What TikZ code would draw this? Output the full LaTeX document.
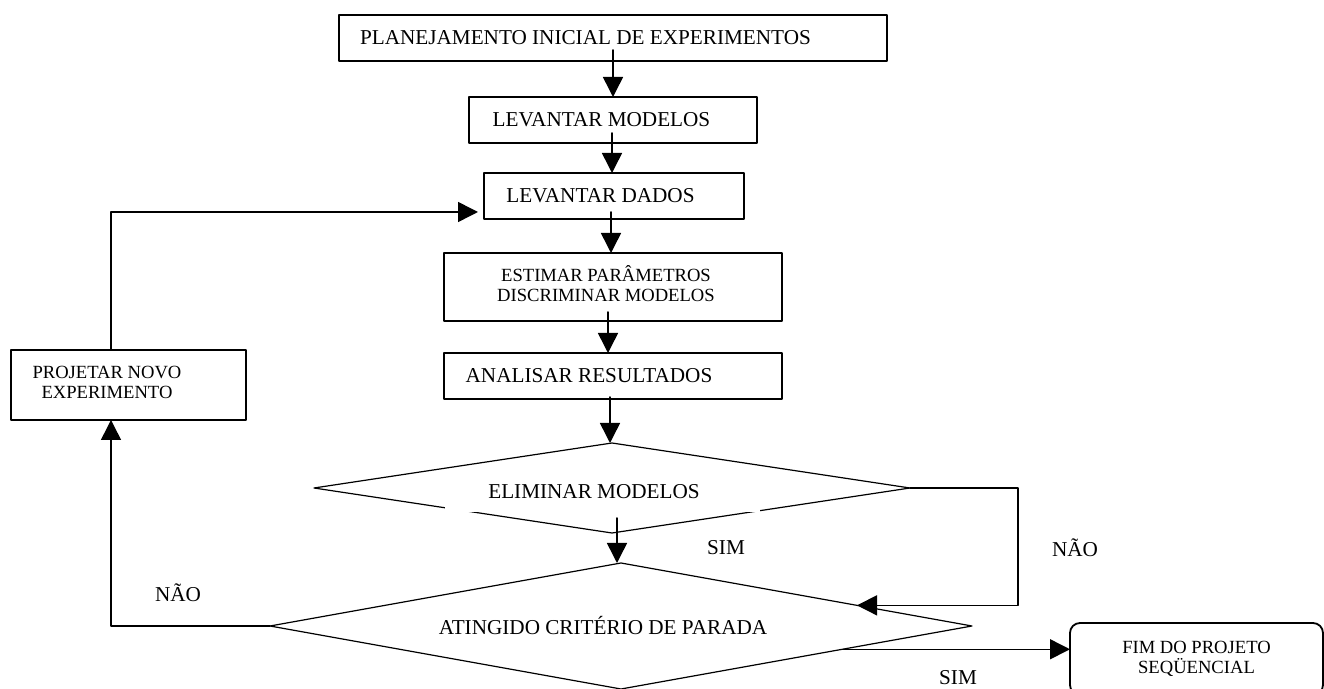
\documentclass[tikz,border=0pt]{standalone}
\usepackage{fontspec}
\setmainfont{Liberation Serif}
\usetikzlibrary{arrows.meta,shapes.geometric}
\begin{document}
\begin{tikzpicture}[x=0.5pt, y=-0.5pt, line cap=round, line join=round,
    box/.style={draw, line width=0.9pt, inner sep=0pt, outer sep=0pt, font=\fontsize{10.6}{12}\selectfont},
    smallbox/.style={box, font=\fontsize{9.3}{10}\selectfont},
    decision/.style={diamond, draw, line width=0.6pt, inner sep=2pt, outer sep=0pt, font=\fontsize{10.6}{12}\selectfont},
    cover/.style={fill=white, inner sep=0pt, font=\fontsize{10.6}{12}\selectfont},
    lbl/.style={inner sep=0pt, font=\fontsize{10.6}{12}\selectfont},
    arr/.style={line width=0.75pt, -{Triangle[length=10pt, width=10pt]}}]
  \useasboundingbox (0,0) rectangle (1324,689);
  \node[box, minimum width=274pt, minimum height=23pt] (plan) at (613,38) {PLANEJAMENTO INICIAL DE EXPERIMENTOS\kern27.5pt};
  \node[box, minimum width=144pt, minimum height=23pt] (levmod) at (613,120) {LEVANTAR MODELOS\kern11.5pt};
  \node[box, minimum width=130pt, minimum height=23pt] (levdad) at (614,196) {LEVANTAR DADOS\kern13.5pt};
  \node[smallbox, minimum width=169pt, minimum height=34pt] (estim) at (613,287) {\begin{tabular}{@{}c@{}}ESTIMAR PARÂMETROS\\DISCRIMINAR MODELOS\end{tabular}\kern7pt};
  \node[box, minimum width=169pt, minimum height=23pt] (anal) at (613,376) {ANALISAR RESULTADOS\kern24pt};
  \node[smallbox, minimum width=117.5pt, minimum height=35pt] (projeto) at (128.5,385) {\begin{tabular}{@{}c@{}}PROJETAR NOVO\\EXPERIMENTO\end{tabular}\kern21.5pt};
  \node[smallbox, rounded corners=5pt, align=center, minimum width=126.5pt, minimum height=36pt] (fim) at (1196.5,659) {FIM DO PROJETO\\SEQÜENCIAL};
  \node[decision, aspect=6.6, minimum width=298pt, minimum height=45pt] (elim) at (612,488) {};
  \node[cover, minimum width=157.5pt, minimum height=20pt] (elimtxt) at (602,492) {ELIMINAR MODELOS\kern8pt};
  \node[decision, aspect=5.57, minimum width=351pt, minimum height=63pt] (crit) at (621,626) {ATINGIDO CRITÉRIO DE PARADA\kern18pt};
  \node[lbl] (sim1) at (726,548) {SIM};
  \node[lbl] (sim2) at (958,678) {SIM};
  \node[lbl] (naodir) at (1075,548) {NÃO};
  \node[lbl] (naoesq) at (178,593) {NÃO};
  \draw[arr] ([yshift=5.5pt]plan.south) -- (levmod.north);
  \draw[arr] ([xshift=-0.5pt, yshift=5pt]levmod.south) -- ([xshift=-0.5pt]levmod.south |- levdad.north);
  \draw[arr] ([xshift=-1.5pt, yshift=3.5pt]levdad.south) -- ([xshift=-1.5pt]levdad.south |- estim.north);
  \draw[arr] ([xshift=-2.5pt, yshift=4.5pt]estim.south) -- ([xshift=-2.5pt]estim.south |- anal.north);
  \draw[arr] ([xshift=-1.5pt, yshift=1pt]anal.south) -- ([xshift=-1.5pt]anal.south |- elim.north);
  \draw[arr] ([xshift=2.5pt, yshift=7.5pt]elim.south) -- ([xshift=2.5pt]elim.south |- crit.north);
  \draw[arr] (elim.east) -- ++(108,0) |- (crit.5);
  \draw[arr] (crit.west) -| ([xshift=-8.75pt]projeto.south);
  \draw[arr] ([xshift=-8.75pt]projeto.north) |- ([xshift=-3pt, yshift=-8pt]levdad.west);
  \draw[arr] (crit.-6) -- (crit.-6 -| fim.west);
\end{tikzpicture}
\end{document}
